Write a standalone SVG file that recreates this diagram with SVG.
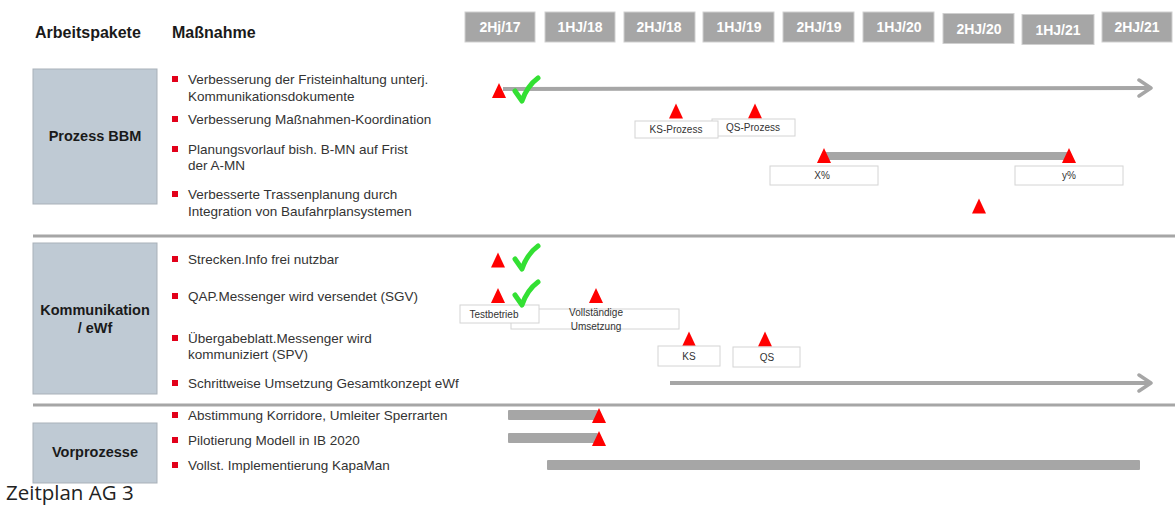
<svg xmlns="http://www.w3.org/2000/svg" width="1175" height="506" viewBox="0 0 1175 506">
<style>
.hd{font-family:"Liberation Sans",Arial,sans-serif;font-weight:bold;font-size:16px;fill:#1a1a1a}
.hb{fill:#A6A6A6;stroke:#CFCFCF;stroke-width:1}
.ht{font-family:"Liberation Sans",Arial,sans-serif;font-weight:bold;font-size:14px;fill:#ffffff;text-anchor:middle}
.gb{fill:#BFCAD4;stroke:#A9B1B9;stroke-width:1}
.gt{font-family:"Liberation Sans",Arial,sans-serif;font-weight:bold;font-size:14.5px;fill:#1a1a1a;text-anchor:middle}
.bt{font-family:"Liberation Sans",Arial,sans-serif;font-size:13.5px;fill:#333333}
.bu{fill:#E2001A}
.sep{stroke:#A6A6A6;stroke-width:3}
.lb{fill:#ffffff;stroke:#D4D4D4;stroke-width:1}
.lt{font-family:"Liberation Sans",Arial,sans-serif;font-size:10px;fill:#333333;text-anchor:middle}
.bar{fill:#A6A6A6}
.arr{stroke:#A6A6A6;stroke-width:4;fill:none;marker-end:url(#arrow)}
.cap{font-family:"Open Sans","Liberation Sans",sans-serif;font-size:20.5px;fill:#222222}
</style>
<defs>
<path id="tri" d="M-7,7.5 L0,-7.5 L7,7.5 Z" fill="#FF0000"/>
<path id="chk" d="M3,14 L10,24 Q15,9 26,1" fill="none" stroke="#33E033" stroke-width="5" stroke-linecap="round" stroke-linejoin="round"/>
<marker id="arrow" markerUnits="userSpaceOnUse" viewBox="0 0 16 20" markerWidth="16" markerHeight="20" refX="14" refY="10" orient="auto">
<path d="M2,2 L14,10 L2,18" fill="none" stroke="#A6A6A6" stroke-width="3.5" stroke-linecap="round" stroke-linejoin="round"/>
</marker>
</defs>
<rect width="1175" height="506" fill="#ffffff"/>

<g id="headers">
<text class="hd" x="35" y="38">Arbeitspakete</text>
<text class="hd" x="172" y="38">Maßnahme</text>
</g>

<g id="timescale">
<rect class="hb" x="465" y="12" width="70" height="30"/><text class="ht" x="500" y="32">2Hj/17</text>
<rect class="hb" x="545" y="12" width="70" height="30"/><text class="ht" x="580" y="32">1HJ/18</text>
<rect class="hb" x="624" y="12" width="71" height="30"/><text class="ht" x="659" y="32">2HJ/18</text>
<rect class="hb" x="703" y="12" width="71" height="30"/><text class="ht" x="739" y="32">1HJ/19</text>
<rect class="hb" x="783" y="12" width="71" height="30"/><text class="ht" x="819" y="32">2HJ/19</text>
<rect class="hb" x="863" y="12" width="71" height="30"/><text class="ht" x="899" y="32">1HJ/20</text>
<rect class="hb" x="943" y="13.5" width="71" height="30"/><text class="ht" x="979" y="34">2HJ/20</text>
<rect class="hb" x="1022" y="14.5" width="72" height="30"/><text class="ht" x="1058" y="35">1HJ/21</text>
<rect class="hb" x="1102" y="12" width="70" height="30"/><text class="ht" x="1137" y="32">2HJ/21</text>
</g>

<g id="separators">
<line class="sep" x1="33" y1="236" x2="1175" y2="236"/>
<line class="sep" x1="33" y1="405" x2="1175" y2="405"/>
</g>

<g id="prozess-bbm">
<rect class="gb" x="33" y="69" width="124" height="135"/>
<text class="gt" x="95" y="141">Prozess BBM</text>
<rect class="bu" x="172" y="76" width="6" height="6"/>
<text class="bt" x="188" y="84">Verbesserung der Fristeinhaltung unterj.</text>
<text class="bt" x="188" y="101">Kommunikationsdokumente</text>
<rect class="bu" x="172" y="116" width="6" height="6"/>
<text class="bt" x="188" y="124">Verbesserung Maßnahmen-Koordination</text>
<rect class="bu" x="172" y="146" width="6" height="6"/>
<text class="bt" x="188" y="154">Planungsvorlauf bish. B-MN auf Frist</text>
<text class="bt" x="188" y="170">der A-MN</text>
<rect class="bu" x="172" y="191" width="6" height="6"/>
<text class="bt" x="188" y="199">Verbesserte Trassenplanung durch</text>
<text class="bt" x="188" y="216">Integration von Baufahrplansystemen</text>
</g>

<g id="kommunikation">
<rect class="gb" x="33" y="243" width="124" height="151"/>
<text class="gt" x="95" y="315">Kommunikation</text>
<text class="gt" x="95" y="333">/ eWf</text>
<rect class="bu" x="172" y="256" width="6" height="6"/>
<text class="bt" x="188" y="264">Strecken.Info frei nutzbar</text>
<rect class="bu" x="172" y="293" width="6" height="6"/>
<text class="bt" x="188" y="301">QAP.Messenger  wird versendet (SGV)</text>
<rect class="bu" x="172" y="335" width="6" height="6"/>
<text class="bt" x="188" y="343">Übergabeblatt.Messenger wird</text>
<text class="bt" x="188" y="359">kommuniziert (SPV)</text>
<rect class="bu" x="172" y="380" width="6" height="6"/>
<text class="bt" x="188" y="388">Schrittweise Umsetzung Gesamtkonzept eWf</text>
</g>

<g id="vorprozesse">
<rect class="gb" x="33" y="423" width="124" height="60"/>
<text class="gt" x="95" y="457">Vorprozesse</text>
<rect class="bu" x="172" y="412" width="6" height="6"/>
<text class="bt" x="188" y="420">Abstimmung Korridore, Umleiter Sperrarten</text>
<rect class="bu" x="172" y="437" width="6" height="6"/>
<text class="bt" x="188" y="445">Pilotierung Modell in IB 2020</text>
<rect class="bu" x="172" y="462" width="6" height="6"/>
<text class="bt" x="188" y="470">Vollst. Implementierung KapaMan</text>
</g>

<g id="connectors">
<line class="arr" x1="503" y1="89" x2="1151" y2="88"/>
<line x1="824" y1="156" x2="1069" y2="156" stroke="#A6A6A6" stroke-width="8"/>
<line class="arr" x1="670" y1="383" x2="1151" y2="383"/>
<rect class="bar" x="508" y="410" width="90" height="10" rx="1"/>
<rect class="bar" x="508" y="433" width="90" height="10" rx="1"/>
<rect class="bar" x="547" y="460" width="593" height="10" rx="1"/>
</g>

<g id="milestones-prozess">
<use href="#tri" x="499" y="90.5"/>
<use href="#chk" x="512" y="77"/>
<use href="#tri" x="676" y="111"/>
<use href="#tri" x="755" y="111"/>
<rect class="lb" x="712" y="119" width="83" height="17"/>
<text class="lt" x="753" y="131">QS-Prozess</text>
<rect class="lb" x="635" y="121" width="83" height="17"/>
<text class="lt" x="676" y="133">KS-Prozess</text>
<use href="#tri" x="824" y="155.5"/>
<use href="#tri" x="1069" y="155.5"/>
<rect class="lb" x="770" y="166" width="108" height="19"/>
<text class="lt" x="822" y="179">X%</text>
<rect class="lb" x="1015" y="166" width="108" height="19"/>
<text class="lt" x="1069" y="179">y%</text>
<use href="#tri" x="979" y="206"/>
</g>

<g id="milestones-kommunikation">
<use href="#tri" x="498" y="260"/>
<use href="#chk" x="512" y="245"/>
<use href="#tri" x="498" y="295.5"/>
<use href="#tri" x="596" y="295.5"/>
<rect class="lb" x="511" y="309" width="168" height="20"/>
<text class="lt" x="596" y="316">Vollständige</text>
<text class="lt" x="596" y="330">Umsetzung</text>
<rect class="lb" x="460" y="305" width="79" height="18"/>
<text class="lt" x="494" y="318">Testbetrieb</text>
<use href="#chk" x="512" y="281"/>
<use href="#tri" x="689" y="339"/>
<use href="#tri" x="765" y="339"/>
<rect class="lb" x="658" y="346" width="62" height="20"/>
<text class="lt" x="689" y="360">KS</text>
<rect class="lb" x="733" y="347" width="67" height="20"/>
<text class="lt" x="767" y="361">QS</text>
</g>

<g id="milestones-vorprozesse">
<use href="#tri" x="599" y="415.5"/>
<use href="#tri" x="599" y="438.5"/>
</g>

<text class="cap" x="6" y="500">Zeitplan AG 3</text>
</svg>
